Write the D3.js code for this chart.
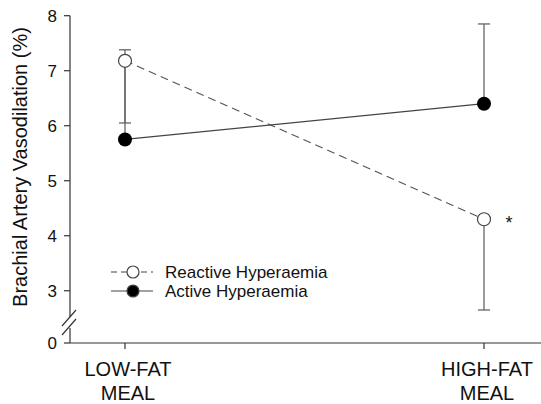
<!DOCTYPE html>
<html>
<head>
<meta charset="utf-8">
<script src="https://cdn.jsdelivr.net/npm/d3@7"></script>
<style>
  body { margin: 0; background: #fff; }
  text { font-family: "Liberation Sans", Arial, sans-serif; fill: #111; }
</style>
</head>
<body>
<div id="chart"></div>
<script>
// categories and values
var meals = ["LOW-FAT MEAL", "HIGH-FAT MEAL"];
var reactive = [7.18, 4.30];
var reactiveErr = [6.05, 2.65];   // bars go downward
var active = [5.75, 6.40];
var activeErr = [7.38, 7.85];     // bars go upward
var yTicks = [3, 4, 5, 6, 7, 8];
var baseLabel = "0";              // sits below the axis break

var width = 541, height = 404;

var svg = d3.select("#chart")
    .append("svg")
    .attr("width", width)
    .attr("height", height);

// x positions of the two meals
var xScale = d3.scalePoint()
    .domain(meals)
    .range([125, 484]);

// linear part of the axis; the bottom of the plot is labelled 0
var yScale = d3.scaleLinear()
    .domain([2.05, 8])
    .range([343, 15.7]);

var axisLeft = 70;
var axisBottom = 343;

// y axis line (with a gap for the break)
svg.append("line")
    .attr("x1", axisLeft).attr("x2", axisLeft)
    .attr("y1", yScale(8)).attr("y2", 317)
    .attr("stroke", "#333").attr("stroke-width", 1.2);
svg.append("line")
    .attr("x1", axisLeft).attr("x2", axisLeft)
    .attr("y1", 328).attr("y2", axisBottom)
    .attr("stroke", "#333").attr("stroke-width", 1.2);

// break slashes
[0, 9].forEach(function(off) {
  svg.append("line")
    .attr("x1", axisLeft - 8).attr("y1", 326 + off)
    .attr("x2", axisLeft + 6).attr("y2", 310 + off)
    .attr("stroke", "#333").attr("stroke-width", 1.2);
});

// y ticks and labels
var tickData = yTicks.map(function(v) { return { y: yScale(v), label: v }; })
    .concat([{ y: axisBottom, label: baseLabel }]);
var yt = svg.append("g");
yt.selectAll("line").data(tickData).enter().append("line")
    .attr("x1", axisLeft - 6).attr("x2", axisLeft)
    .attr("y1", function(d) { return d.y; })
    .attr("y2", function(d) { return d.y; })
    .attr("stroke", "#333").attr("stroke-width", 1.2);
yt.selectAll("text").data(tickData).enter().append("text")
    .attr("x", axisLeft - 13)
    .attr("y", function(d) { return d.y; })
    .attr("dy", "0.36em")
    .attr("text-anchor", "end")
    .attr("font-size", 17)
    .text(function(d) { return d.label; });

// x axis line
svg.append("line")
    .attr("x1", axisLeft).attr("x2", width)
    .attr("y1", axisBottom).attr("y2", axisBottom)
    .attr("stroke", "#333").attr("stroke-width", 1.2);

// x ticks and two-line labels
var xt = svg.append("g");
xt.selectAll("line").data(meals).enter().append("line")
    .attr("x1", function(d) { return xScale(d); })
    .attr("x2", function(d) { return xScale(d); })
    .attr("y1", axisBottom).attr("y2", axisBottom + 6)
    .attr("stroke", "#333").attr("stroke-width", 1.2);
var xl = xt.selectAll("text").data(meals).enter().append("text")
    .attr("text-anchor", "middle")
    .attr("font-size", 20);
xl.append("tspan")
    .attr("x", function(d) { return xScale(d) + 3; })
    .attr("y", 376)
    .text(function(d) { return d.split(" ")[0]; });
xl.append("tspan")
    .attr("x", function(d) { return xScale(d) + 3; })
    .attr("y", 400)
    .text(function(d) { return d.split(" ")[1]; });

// y axis title
svg.append("text")
    .attr("transform", "translate(27,167)rotate(-90)")
    .attr("text-anchor", "middle")
    .attr("font-size", 20)
    .text("Brachial Artery Vasodilation (%)");

// error bars
function errBars(vals, ends) {
  meals.forEach(function(m, i) {
    var x = xScale(m);
    svg.append("line")
      .attr("x1", x).attr("x2", x)
      .attr("y1", yScale(vals[i])).attr("y2", yScale(ends[i]))
      .attr("stroke", "#666").attr("stroke-width", 1.3);
    svg.append("line")
      .attr("x1", x - 6).attr("x2", x + 6)
      .attr("y1", yScale(ends[i])).attr("y2", yScale(ends[i]))
      .attr("stroke", "#666").attr("stroke-width", 1.3);
  });
}
errBars(active, activeErr);
errBars(reactive, reactiveErr);

var line = d3.line()
    .x(function(d, i) { return xScale(meals[i]); })
    .y(function(d) { return yScale(d); });

// series lines
svg.append("path")
    .datum(reactive)
    .attr("d", line)
    .attr("fill", "none")
    .attr("stroke", "#555")
    .attr("stroke-width", 1.2)
    .attr("stroke-dasharray", "8,5");
svg.append("path")
    .datum(active)
    .attr("d", line)
    .attr("fill", "none")
    .attr("stroke", "#444")
    .attr("stroke-width", 1.3);

// markers
svg.selectAll(".rdot").data(reactive).enter().append("circle")
    .attr("class", "rdot")
    .attr("cx", function(d, i) { return xScale(meals[i]); })
    .attr("cy", function(d) { return yScale(d); })
    .attr("r", 6.5)
    .attr("fill", "#fff")
    .attr("stroke", "#444")
    .attr("stroke-width", 1.2);
svg.selectAll(".adot").data(active).enter().append("circle")
    .attr("class", "adot")
    .attr("cx", function(d, i) { return xScale(meals[i]); })
    .attr("cy", function(d) { return yScale(d); })
    .attr("r", 7)
    .attr("fill", "#000");

// significance star
svg.append("text")
    .attr("x", 509)
    .attr("y", yScale(reactive[1]) + 10)
    .attr("text-anchor", "middle")
    .attr("font-size", 18)
    .text("*");

// legend
var legend = [
  { name: "Reactive Hyperaemia", dash: "6,4", fill: "#fff", y: 272 },
  { name: "Active Hyperaemia", dash: null, fill: "#000", y: 291 }
];
var lg = svg.selectAll(".leg").data(legend).enter().append("g")
    .attr("class", "leg")
    .attr("transform", function(d) { return "translate(0," + d.y + ")"; });
lg.append("line")
    .attr("x1", 111).attr("x2", 153)
    .attr("stroke", "#444").attr("stroke-width", 1.2)
    .attr("stroke-dasharray", function(d) { return d.dash; });
lg.append("circle")
    .attr("cx", 133).attr("r", 6)
    .attr("fill", function(d) { return d.fill; })
    .attr("stroke", "#444").attr("stroke-width", 1.2);
lg.append("text")
    .attr("x", 165)
    .attr("dy", "0.36em")
    .attr("font-size", 17)
    .text(function(d) { return d.name; });
</script>
</body>
</html>
